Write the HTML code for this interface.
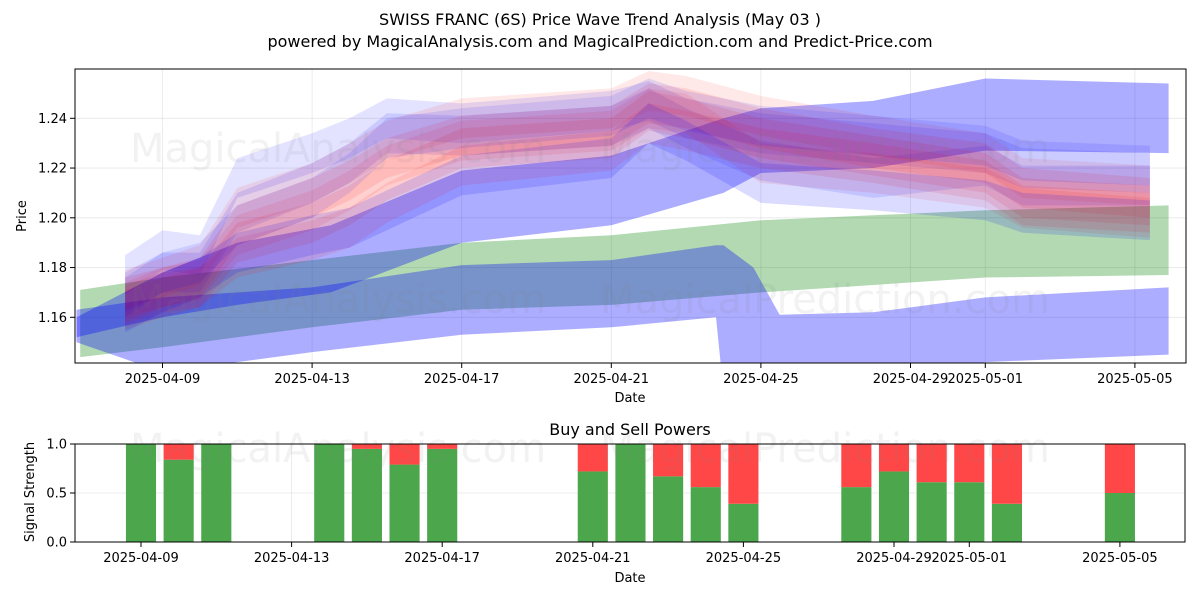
<!DOCTYPE html>
<html><head><meta charset="utf-8"><style>
html,body{margin:0;padding:0;background:#fff;}
svg{display:block;font-family:"DejaVu Sans","Liberation Sans",sans-serif;}
</style></head><body>
<svg id="chart" width="1200" height="600" viewBox="0 0 1200 600" xmlns="http://www.w3.org/2000/svg">
<defs>
<clipPath id="clipTop"><rect x="75" y="69" width="1111" height="294"/></clipPath>
<clipPath id="clipBot"><rect x="75" y="444" width="1110" height="98"/></clipPath>
</defs>
<text x="600" y="25" text-anchor="middle" font-size="16">SWISS FRANC (6S) Price Wave Trend Analysis (May 03 )</text>
<text x="600" y="47" text-anchor="middle" font-size="16">powered by MagicalAnalysis.com and MagicalPrediction.com and Predict-Price.com</text>
<g id="topGrid"></g>
<g id="topMarks" clip-path="url(#clipTop)"></g>
<g font-size="40" fill="rgba(128,128,128,0.1)">
<text x="130" y="162">MagicalAnalysis.com</text><text x="600" y="162">MagicalPrediction.com</text>
<text x="130" y="313">MagicalAnalysis.com</text><text x="600" y="313">MagicalPrediction.com</text>
</g>
<rect x="75" y="69" width="1111" height="294" fill="none" stroke="#000" stroke-width="1"/>
<g id="topAxis" font-size="13"></g>
<text x="630" y="402" text-anchor="middle" font-size="13">Date</text>
<text transform="translate(26,216) rotate(-90)" text-anchor="middle" font-size="13">Price</text>
<text x="630" y="435" text-anchor="middle" font-size="16">Buy and Sell Powers</text>
<g id="botGrid"></g>
<g id="botMarks" clip-path="url(#clipBot)"></g>
<g font-size="40" fill="rgba(128,128,128,0.1)">
<text x="130" y="462">MagicalAnalysis.com</text><text x="600" y="462">MagicalPrediction.com</text>
</g>
<rect x="75" y="444" width="1110" height="98" fill="none" stroke="#000" stroke-width="1"/>
<g id="botAxis" font-size="13"></g>
<text x="630" y="582" text-anchor="middle" font-size="13">Date</text>
<text transform="translate(34,492) rotate(-90)" text-anchor="middle" font-size="13">Signal Strength</text>
</svg>
<script>
// ---- data (day offsets relative to 2025-04-09) ----
const xTickLabels = ["2025-04-09","2025-04-13","2025-04-17","2025-04-21","2025-04-25","2025-04-29","2025-05-01","2025-05-05"];
const xTickDays = [0,4,8,12,16,20,22,26];
const yTickLabels = ["1.16","1.18","1.20","1.22","1.24"];
const yTickValues = [1.16,1.18,1.20,1.22,1.24];
const sigTickLabels = ["0.0","0.5","1.0"];
const sigTickValues = [0,0.5,1];

const greenDays = [-2.2,0,4,8,12,16,22,26.9];
const greenUpper = [1.171,1.176,1.183,1.190,1.193,1.199,1.203,1.205];
const greenLower = [1.144,1.148,1.156,1.163,1.165,1.170,1.176,1.177];

const blueHiDays = [-2.3,0,2,4.5,8,12,15,16,19,22,26.9];
const blueHiUpper = [1.160,1.178,1.190,1.197,1.219,1.225,1.240,1.244,1.247,1.256,1.254];
const blueHiLower = [1.152,1.160,1.165,1.170,1.190,1.197,1.210,1.218,1.220,1.227,1.226];

const blueLoDays = [-2.3,0,4,8,12,14.8,15.0,15.8,16.5,19,22,26.9];
const blueLoUpper = [1.163,1.168,1.172,1.181,1.183,1.189,1.189,1.180,1.161,1.162,1.168,1.172];
const blueLoLower = [1.150,1.138,1.146,1.153,1.156,1.160,1.130,1.130,1.130,1.130,1.142,1.145];

const waveDays = [-1,0,1,2,4,5,6,8,12,13,14,16,19,22,23,26.4];
const waveBlueA = [1.177,1.187,1.185,1.216,1.226,1.232,1.240,1.238,1.243,1.247,1.240,1.234,1.230,1.226,1.220,1.218];
const waveBlueB = [1.170,1.178,1.178,1.202,1.214,1.222,1.234,1.233,1.237,1.244,1.236,1.223,1.216,1.221,1.213,1.213];
const waveBlueC = [1.162,1.170,1.176,1.186,1.193,1.196,1.203,1.217,1.224,1.238,1.231,1.214,1.211,1.207,1.202,1.199];
const waveBlueD = [1.168,1.178,1.182,1.197,1.208,1.218,1.232,1.236,1.241,1.248,1.243,1.237,1.233,1.229,1.223,1.221];
const waveRedA = [1.168,1.172,1.176,1.197,1.208,1.215,1.224,1.233,1.237,1.246,1.244,1.236,1.228,1.222,1.212,1.208];
const waveRedB = [1.165,1.170,1.172,1.190,1.198,1.205,1.215,1.228,1.232,1.243,1.240,1.232,1.225,1.218,1.208,1.205];
const waveRedC = [1.171,1.176,1.181,1.204,1.214,1.222,1.231,1.240,1.244,1.251,1.249,1.241,1.233,1.226,1.216,1.213];
const waveRedD = [1.163,1.168,1.172,1.184,1.191,1.196,1.206,1.221,1.227,1.238,1.235,1.228,1.222,1.215,1.205,1.202];
const waveRedE = [1.166,1.172,1.175,1.193,1.203,1.211,1.221,1.231,1.235,1.244,1.242,1.222,1.218,1.212,1.204,1.200];
const waveHalfWidth = 0.008;

const barDays = [0,1,2,5,6,7,8,12,13,14,15,16,19,20,21,22,23,26];
const buyValues = [1.0,0.84,1.0,1.0,0.95,0.79,0.95,0.72,1.0,0.67,0.56,0.39,0.56,0.72,0.61,0.61,0.39,0.50];

// ---- axis functions ----
const NS = "http://www.w3.org/2000/svg";
const xTop = d => 162.5 + d * 37.4;
const yTop = v => 317.3 - (v - 1.16) * 2487.5;
const xBot = d => 141 + d * 37.65;
const yBot = v => 542 - v * 98;

function mk(tag, attrs, parent) {
  const el = document.createElementNS(NS, tag);
  for (const k in attrs) el.setAttribute(k, attrs[k]);
  parent.appendChild(el);
  return el;
}
const topGrid = document.getElementById('topGrid');
const topMarks = document.getElementById('topMarks');
const topAxis = document.getElementById('topAxis');
const botGrid = document.getElementById('botGrid');
const botMarks = document.getElementById('botMarks');
const botAxis = document.getElementById('botAxis');

xTickDays.forEach((d, i) => {
  const x = xTop(d);
  const g = mk('line', {x1:x, x2:x, y1:69, y2:363, stroke:'#b0b0b0', 'stroke-opacity':0.3, 'stroke-width':0.8}, topGrid);
  
  
  const t = mk('line', {x1:x, x2:x, y1:363, y2:368, stroke:'#000'}, topAxis);
  
  
  const l = mk('text', {x:x, y:383, 'text-anchor':'middle'}, topAxis);
  l.textContent = xTickLabels[i];
  
  
});
yTickValues.forEach((v, i) => {
  const y = yTop(v);
  const g = mk('line', {x1:75, x2:1186, y1:y, y2:y, stroke:'#b0b0b0', 'stroke-opacity':0.3, 'stroke-width':0.8}, topGrid);
  
  
  const t = mk('line', {x1:70, x2:75, y1:y, y2:y, stroke:'#000'}, topAxis);
  
  
  const l = mk('text', {x:67, y:y+4.5, 'text-anchor':'end'}, topAxis);
  l.textContent = yTickLabels[i];
  
  
});

function band(days, upper, lower, fill, name) {
  const pts = [];
  days.forEach((d, i) => pts.push(xTop(d).toFixed(1) + ',' + yTop(upper[i]).toFixed(1)));
  for (let i = days.length - 1; i >= 0; i--) pts.push(xTop(days[i]).toFixed(1) + ',' + yTop(lower[i]).toFixed(1));
  const p = mk('polygon', {points: pts.join(' '), fill: fill}, topMarks);
  
  
}
function wave(center, fill, name) {
  band(waveDays, center.map(c => c + waveHalfWidth), center.map(c => c - waveHalfWidth), fill, name);
}

band(greenDays, greenUpper, greenLower, 'rgba(0,128,0,0.3)', 'green-trend-band');
band(blueHiDays, blueHiUpper, blueHiLower, 'rgba(0,0,255,0.32)', 'blue-upper-band');
band(blueLoDays, blueLoUpper, blueLoLower, 'rgba(0,0,255,0.32)', 'blue-lower-band');
wave(waveBlueA, 'rgba(0,0,255,0.11)', 'blue-wave-a');
wave(waveBlueB, 'rgba(0,0,255,0.11)', 'blue-wave-b');
wave(waveRedA, 'rgba(255,0,0,0.1)', 'red-wave-a');
wave(waveRedB, 'rgba(255,0,0,0.1)', 'red-wave-b');
wave(waveRedC, 'rgba(255,0,0,0.09)', 'red-wave-c');
wave(waveRedD, 'rgba(255,0,0,0.1)', 'red-wave-d');
wave(waveRedE, 'rgba(255,0,0,0.09)', 'red-wave-e');
wave(waveBlueC, 'rgba(0,0,255,0.14)', 'blue-wave-c');
wave(waveBlueD, 'rgba(0,0,255,0.1)', 'blue-wave-d');

xTickDays.forEach((d, i) => {
  const x = xBot(d);
  const g = mk('line', {x1:x, x2:x, y1:444, y2:542, stroke:'#b0b0b0', 'stroke-opacity':0.3, 'stroke-width':0.8}, botGrid);
  
  
  const t = mk('line', {x1:x, x2:x, y1:542, y2:547, stroke:'#000'}, botAxis);
  
  
  const l = mk('text', {x:x, y:562, 'text-anchor':'middle'}, botAxis);
  l.textContent = xTickLabels[i];
  
  
});
sigTickValues.forEach((v, i) => {
  const y = yBot(v);
  const g = mk('line', {x1:75, x2:1185, y1:y, y2:y, stroke:'#b0b0b0', 'stroke-opacity':0.3, 'stroke-width':0.8}, botGrid);
  
  
  const t = mk('line', {x1:70, x2:75, y1:y, y2:y, stroke:'#000'}, botAxis);
  
  
  const l = mk('text', {x:67, y:y+4.5, 'text-anchor':'end'}, botAxis);
  l.textContent = sigTickLabels[i];
  
  
});
const barW = 0.8 * 37.65;
barDays.forEach((d, i) => {
  const x = xBot(d) - barW / 2;
  const b = buyValues[i];
  const g = mk('rect', {x:x, y:yBot(b), width:barW, height:yBot(0)-yBot(b), fill:'#4ca64c'}, botMarks);
  
  
  if (b < 1) {
    const r = mk('rect', {x:x, y:yBot(1), width:barW, height:yBot(b)-yBot(1), fill:'#ff4747'}, botMarks);
    
    
  }
});
</script>
</body></html>
